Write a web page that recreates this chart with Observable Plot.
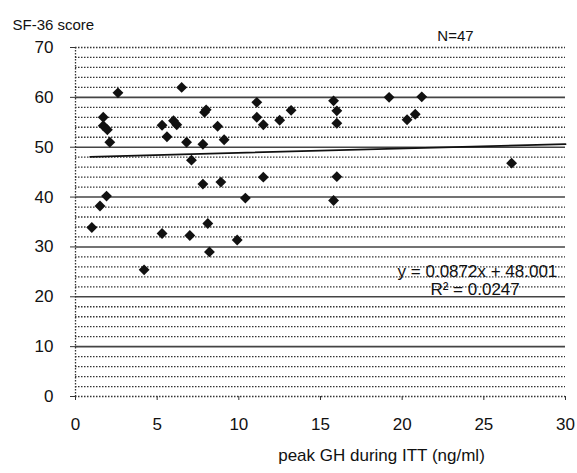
<!DOCTYPE html>
<html>
<head>
<meta charset="utf-8">
<script src="https://cdn.jsdelivr.net/npm/d3@7"></script>
<script src="https://cdn.jsdelivr.net/npm/@observablehq/plot@0.6"></script>
<style>
  html, body { margin: 0; padding: 0; background: #fff; }
  svg { display: block; }
</style>
</head>
<body>
<div id="chart"></div>
<script>
// Data
const peakGH = [1.0, 1.5, 1.9, 1.7, 1.7, 1.95, 2.1, 2.6, 4.2, 5.3, 5.6, 6.0, 6.2, 6.5, 6.8, 7.1, 7.8, 7.9, 8.0, 8.7, 9.1, 7.8, 8.9, 8.1, 5.3, 7.0, 9.9, 8.2, 10.4, 11.1, 11.1, 11.5, 12.5, 13.2, 11.5, 15.8, 16.0, 16.0, 16.0, 15.8, 19.2, 21.2, 20.3, 20.8, 26.7];
const sf36 = [33.9, 38.2, 40.2, 56.0, 54.3, 53.5, 51.0, 60.9, 25.4, 54.4, 52.1, 55.3, 54.5, 62.0, 51.0, 47.4, 50.6, 57.0, 57.5, 54.2, 51.5, 42.6, 43.0, 34.7, 32.7, 32.3, 31.4, 29.0, 39.8, 59.0, 56.0, 54.5, 55.4, 57.4, 44.0, 59.3, 57.3, 54.8, 44.1, 39.3, 60.0, 60.1, 55.5, 56.6, 46.8];

const slope = 0.0872, intercept = 48.001;
const trendX = [0.9, 30];
const xTicks = [0, 5, 10, 15, 20, 25, 30];
const yTicks = [0, 10, 20, 30, 40, 50, 60, 70];
const minorGrid = d3.range(0, 71, 2).filter(v => v % 10 !== 0 || v === 0 || v === 70);
const majorGrid = [10, 20, 30, 40, 50, 60];

const points = peakGH.map((x, i) => ({x, y: sf36[i]}));
const trend = trendX.map(x => ({x, y: slope * x + intercept}));

const font = "'Liberation Sans', Arial, sans-serif";

const chart = Plot.plot({
  width: 577,
  height: 473,
  marginLeft: 75,
  marginRight: 12,
  marginTop: 47,
  marginBottom: 77,
  style: {fontFamily: font, color: "#111", background: "#fff"},
  x: {domain: [0, 30]},
  y: {domain: [0, 70]},
  marks: [
    Plot.ruleY(minorGrid, {y: d => d, stroke: "#333", strokeWidth: 1.3, strokeDasharray: "1.5,1.5"}),
    Plot.ruleY(majorGrid, {y: d => d, stroke: "#444", strokeWidth: 1.6}),
    Plot.ruleX([0], {stroke: "#333", strokeWidth: 1.3, strokeDasharray: "1.5,1.5"}),
    Plot.axisY({ticks: yTicks, tickSize: 5, tickPadding: 17, fontSize: 17, label: null, stroke: "#333"}),
    Plot.axisX({ticks: xTicks, tickSize: 4, tickPadding: 17, fontSize: 17, label: null, stroke: "#333"}),
    Plot.line(trend, {x: "x", y: "y", stroke: "#111", strokeWidth: 1.8}),
    Plot.dot(points, {x: "x", y: "y", symbol: "diamond2", r: 4.9, fill: "#111", stroke: "none"}),
    Plot.text(["y = 0.0872x + 48.001"], {x: 29.5, y: 25.1, text: d => d, textAnchor: "end", fontSize: 17, fill: "#111"}),
    Plot.text(["R\u00b2 = 0.0247"], {x: 27.2, y: 21.4, text: d => d, textAnchor: "end", fontSize: 17, fill: "#111"}),
    Plot.text(["SF-36 score"], {frameAnchor: "top-left", text: d => d, textAnchor: "start", dx: -63, dy: -28, fontSize: 15, fill: "#111"}),
    Plot.text(["N=47"], {frameAnchor: "top", text: d => d, dx: 135, dy: -17, fontSize: 15, fill: "#111"}),
    Plot.text(["peak GH during ITT (ng/ml)"], {frameAnchor: "bottom", text: d => d, dx: 61, dy: 64, fontSize: 17, fill: "#111"})
  ]
});
document.getElementById("chart").appendChild(chart);
</script>
</body>
</html>
